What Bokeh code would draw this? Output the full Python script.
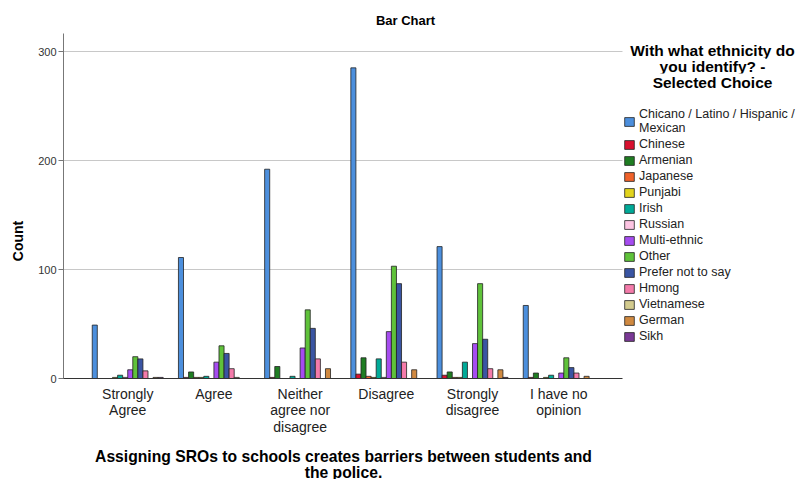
import numpy as np
from bokeh.plotting import figure
from bokeh.models import (Range1d, FixedTicker, Legend, LegendItem, Label, ColumnDataSource,
                          Grid)
from bokeh.core.properties import value
from bokeh.embed import file_html
from bokeh.resources import INLINE

# ---------------- data ----------------
categories = ["Strongly\nAgree", "Agree", "Neither\nagree nor\ndisagree",
              "Disagree", "Strongly\ndisagree", "I have no\nopinion"]

ethnicities = ["Chicano / Latino / Hispanic /\nMexican", "Chinese", "Armenian", "Japanese",
               "Punjabi", "Irish", "Russian", "Multi-ethnic", "Other",
               "Prefer not to say", "Hmong", "Vietnamese", "German", "Sikh"]

colors = ["#4C8FDD", "#D9102F", "#1F7D22", "#F0622A", "#E2D41C", "#00AA98", "#FDC4E2",
          "#A64CF0", "#5FC23A", "#3A55A3", "#F47BAA", "#D3CB8E", "#D08940", "#7A3995"]

chicano    = [49, 111, 192, 285, 121, 67]
chinese    = [0, 1, 1, 4, 3, 1]
armenian   = [0, 6, 11, 19, 6, 5]
japanese   = [0, 1, 0, 2, 1, 0]
punjabi    = [1, 1, 0, 1, 1, 1]
irish      = [3, 2, 2, 18, 15, 3]
russian    = [1, 0, 0, 1, 0, 0]
multi      = [8, 15, 28, 43, 32, 5]
other      = [20, 30, 63, 103, 87, 19]
prefer     = [18, 23, 46, 87, 36, 10]
hmong      = [7, 9, 18, 15, 9, 5]
vietnamese = [0, 1, 0, 0, 0, 0]
german     = [1, 0, 9, 8, 8, 2]
sikh       = [1, 0, 0, 0, 1, 0]

series = [chicano, chinese, armenian, japanese, punjabi, irish, russian,
          multi, other, prefer, hmong, vietnamese, german, sikh]

y_ticks = [0, 100, 200, 300]
legend_title = ["With what ethnicity do", "you identify? -", "Selected Choice"]
x_title = "Assigning SROs to schools creates barriers between students and\nthe police."

# ---------------- layout ----------------
FONT = "Liberation Sans"
W, H = 799, 479
BL, BT, BR, BB = 63, 2, 0, 0
FW, FH = W - BL - BR, H - BT - BB
AXIS_Y = 378            # canvas row of the zero line
PXU_X = 86.2            # pixels per category
PXU_Y = 1.09            # pixels per count
X0 = -0.745
X_AX_END = 5.74         # where the x axis line stops
X1 = X0 + FW / PXU_X
Y0 = -(H - BB - AXIS_Y) / PXU_Y
Y1 = (AXIS_Y - BT) / PXU_Y
Y_AX_END = 316.5
BW = 0.0588

p = figure(width=W, height=H, output_backend="svg", toolbar_location=None,
           x_range=Range1d(X0, X1), y_range=Range1d(Y0, Y1), x_axis_location=None,
           min_border_left=BL, min_border_top=BT, min_border_right=BR,
           min_border_bottom=BB)
p.outline_line_color = None
p.background_fill_color = "white"

def fig2data(xf, yf):
    return (X0 + (xf - BL) / PXU_X, Y1 - (yf - BT) / PXU_Y)

# grid lines (light) and the zero line acting as the category axis line
p.ygrid.ticker = FixedTicker(ticks=y_ticks[1:])
p.ygrid.grid_line_color = "#C8C8C8"
p.ygrid.cross_bounds = (X0, X_AX_END)
p.xgrid.grid_line_color = None
zero_line = Grid(dimension=1, ticker=FixedTicker(ticks=y_ticks[:1]), grid_line_color="#333333",
                 cross_bounds=(X0, X_AX_END), level="overlay")
p.add_layout(zero_line)

group_pos = np.arange(len(categories))
items = []
n = len(series)
for i, (name, col, vals) in enumerate(zip(ethnicities, colors, series)):
    src = ColumnDataSource(dict(x=group_pos + (i - (n - 1) / 2) * BW, top=vals))
    r = p.vbar(x="x", top="top", width=BW, source=src, fill_color=col,
               line_color="#222222", line_width=0.8)
    items.append(LegendItem(label=name, renderers=[r]))

# category labels along the zero line
cat_src = ColumnDataSource(dict(x=group_pos, y=[0] * len(categories), text=categories))
p.text(x="x", y="y", text="text", source=cat_src, text_align="center", text_baseline="top",
       y_offset=7, text_font=value(FONT), text_font_size="14px", text_color="#222222",
       text_line_height=1.05)

# x title
xl, yl = fig2data(343, 447.5)
p.add_layout(Label(x=xl, y=yl, text=x_title, text_font=FONT, text_font_style="bold",
                   text_font_size="15.7px", text_align="center", text_baseline="top",
                   text_line_height=0.96, text_color="black"))

# y axis
p.yaxis.bounds = (0, Y_AX_END)
p.yaxis.ticker = FixedTicker(ticks=y_ticks)
p.yaxis.minor_tick_line_color = None
p.yaxis.axis_line_color = "#777777"
p.yaxis.major_tick_line_color = "#777777"
p.yaxis.major_tick_out = 5
p.yaxis.major_tick_in = 0
p.yaxis.major_label_text_font = FONT
p.yaxis.major_label_text_font_size = "11px"
p.yaxis.major_label_text_color = "#333333"
p.yaxis.major_label_standoff = 2
p.yaxis.axis_label = "Count"
p.yaxis.axis_label_text_font = FONT
p.yaxis.axis_label_text_font_style = "bold"
p.yaxis.axis_label_text_font_size = "14px"
p.yaxis.axis_label_text_color = "black"
p.yaxis.axis_label_standoff = 9

# title
tx, ty = fig2data(405, 20)
p.add_layout(Label(x=tx, y=ty, text="Bar Chart", text_font=FONT, text_font_style="bold",
                   text_font_size="13px", text_align="center", text_baseline="middle",
                   text_color="black"))

# legend title
for k, line in enumerate(legend_title):
    lx, ly = fig2data(712, 49.5 + 16 * k)
    p.add_layout(Label(x=lx, y=ly, text=line, text_font=FONT, text_font_style="bold",
                       text_font_size="15.5px", text_align="center", text_baseline="middle",
                       background_fill_color="white", text_color="black"))

legend = Legend(items=items, location=(623 - BL, (H - BB) - 343), padding=0, margin=0,
                border_line_color=None, background_fill_alpha=0,
                glyph_width=12, glyph_height=11, label_height=12, spacing=2,
                label_standoff=4, label_text_font=FONT, label_text_font_size="12.5px",
                label_text_color="#222222")
p.add_layout(legend, "center")

open("out.html", "w").write(file_html(p, INLINE))
